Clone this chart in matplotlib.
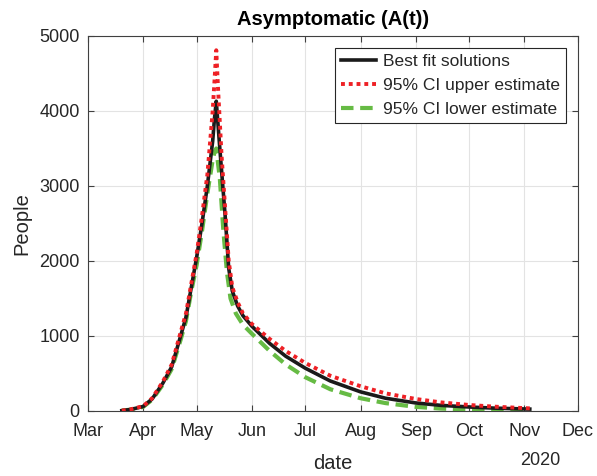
import matplotlib
matplotlib.use("Agg")
import matplotlib.pyplot as plt
import numpy as np

# values
best_dates = ["2020-03-20", "2020-03-25", "2020-04-01", "2020-04-06", "2020-04-12",
              "2020-04-17", "2020-04-22", "2020-04-25", "2020-04-28", "2020-05-01",
              "2020-05-04", "2020-05-07", "2020-05-10", "2020-05-11", "2020-05-12",
              "2020-05-14", "2020-05-15", "2020-05-17", "2020-05-19", "2020-05-21",
              "2020-05-24", "2020-05-27", "2020-06-01", "2020-06-11", "2020-06-20",
              "2020-07-01", "2020-07-15", "2020-08-01", "2020-08-15", "2020-09-01",
              "2020-09-15", "2020-10-01", "2020-10-15", "2020-11-04"]
best_fit = [5, 20, 60, 160, 370,
            590, 1000, 1250, 1650, 2050,
            2500, 3000, 3600, 3900, 4130,
            3500, 3200, 2600, 1900, 1600,
            1400, 1270, 1130, 900, 730,
            570, 400, 255, 170, 107,
            75, 53, 38, 25]

upper_dates = ["2020-03-20", "2020-03-25", "2020-04-01", "2020-04-06", "2020-04-12",
               "2020-04-17", "2020-04-22", "2020-04-25", "2020-04-28", "2020-05-01",
               "2020-05-04", "2020-05-07", "2020-05-10", "2020-05-11", "2020-05-12",
               "2020-05-13", "2020-05-15", "2020-05-17", "2020-05-19", "2020-05-21",
               "2020-05-24", "2020-05-27", "2020-06-01", "2020-06-11", "2020-06-20",
               "2020-07-01", "2020-07-15", "2020-08-01", "2020-08-15", "2020-09-01",
               "2020-09-15", "2020-10-01", "2020-10-15", "2020-11-04"]
upper_ci = [5, 22, 65, 170, 390,
            620, 1050, 1300, 1700, 2100,
            2600, 3150, 4000, 4400, 4810,
            4300, 3400, 2700, 2000, 1650,
            1450, 1300, 1160, 960, 800,
            640, 470, 330, 235, 160,
            115, 80, 58, 35]

lower_dates = ["2020-03-20", "2020-03-25", "2020-04-01", "2020-04-06", "2020-04-12",
               "2020-04-17", "2020-04-22", "2020-04-25", "2020-04-28", "2020-05-01",
               "2020-05-04", "2020-05-07", "2020-05-10", "2020-05-11", "2020-05-12",
               "2020-05-14", "2020-05-16", "2020-05-18", "2020-05-20", "2020-05-23",
               "2020-05-27", "2020-06-01", "2020-06-11", "2020-06-20", "2020-07-01",
               "2020-07-15", "2020-08-01", "2020-08-15", "2020-09-01", "2020-09-15",
               "2020-10-01", "2020-10-15", "2020-11-04"]
lower_ci = [5, 18, 55, 150, 350,
            560, 950, 1200, 1600, 1950,
            2400, 2900, 3350, 3450, 3500,
            3100, 2400, 1850, 1500, 1300,
            1150, 1030, 800, 620, 450,
            290, 170, 105, 55, 32,
            18, 10, 4]

month_ticks = ["2020-03-01", "2020-04-01", "2020-05-01", "2020-06-01", "2020-07-01",
               "2020-08-01", "2020-09-01", "2020-10-01", "2020-11-01", "2020-12-01"]
month_labels = ["Mar", "Apr", "May", "Jun", "Jul", "Aug", "Sep", "Oct", "Nov", "Dec"]
y_ticks = [0, 1000, 2000, 3000, 4000, 5000]

plt.rcParams['font.family'] = ['Liberation Sans', 'DejaVu Sans']
grey = '#262626'

fig = plt.figure(figsize=(5.97, 4.76), dpi=100)
ax = fig.add_axes([0.1474, 0.1366, 0.8206, 0.7878])

to_dt = lambda d: np.array(d, dtype='datetime64[D]')

ax.plot(to_dt(best_dates), best_fit, color='#1a1a1a', lw=2.6, label='Best fit solutions', zorder=3)
ax.plot(to_dt(upper_dates), upper_ci, color='#ee2025', lw=2.8, linestyle=(0, (1, 1)),
        dash_capstyle='butt', label='95% CI upper estimate', zorder=4)
ax.plot(to_dt(lower_dates), lower_ci, color='#66bb44', lw=3.0, linestyle=(0, (3, 1.6)),
        dash_capstyle='butt', label='95% CI lower estimate', zorder=2)

ax.set_xlim(to_dt(["2020-03-01"])[0], to_dt(["2020-12-01"])[0])
ax.set_ylim(0, 5000)
ax.set_xticks(to_dt(month_ticks))
ax.set_xticklabels(month_labels)
ax.set_yticks(y_ticks)

ax.grid(True, color='#e3e3e3', lw=0.8)
ax.set_axisbelow(True)
ax.tick_params(direction='in', top=True, right=True, length=4, width=0.8,
               labelsize=13, colors='#404040', labelcolor=grey)
ax.tick_params(axis='x', pad=9)
ax.tick_params(axis='y', pad=6)
for s in ax.spines.values():
    s.set_color('#404040')
    s.set_linewidth(0.8)

ax.set_title('Asymptomatic (A(t))', fontsize=14.5, fontweight='bold', color='black', pad=8)
ax.set_ylabel('People', fontsize=14.5, color=grey, labelpad=6)
ax.set_xlabel('date', fontsize=14.5, color=grey, labelpad=10)
ax.text(0.924, -0.131, '2020', transform=ax.transAxes, ha='center', va='center',
        fontsize=13, color=grey)

leg = ax.legend(loc='upper right', fontsize=12.5, frameon=True, fancybox=False,
                handlelength=2.0, handletextpad=0.4, borderpad=0.35, labelspacing=0.5,
                borderaxespad=0.7, framealpha=1)
leg.get_frame().set_edgecolor('#262626')
leg.get_frame().set_linewidth(0.8)
for t in leg.get_texts():
    t.set_color(grey)

fig.savefig('out.png', dpi=100)
